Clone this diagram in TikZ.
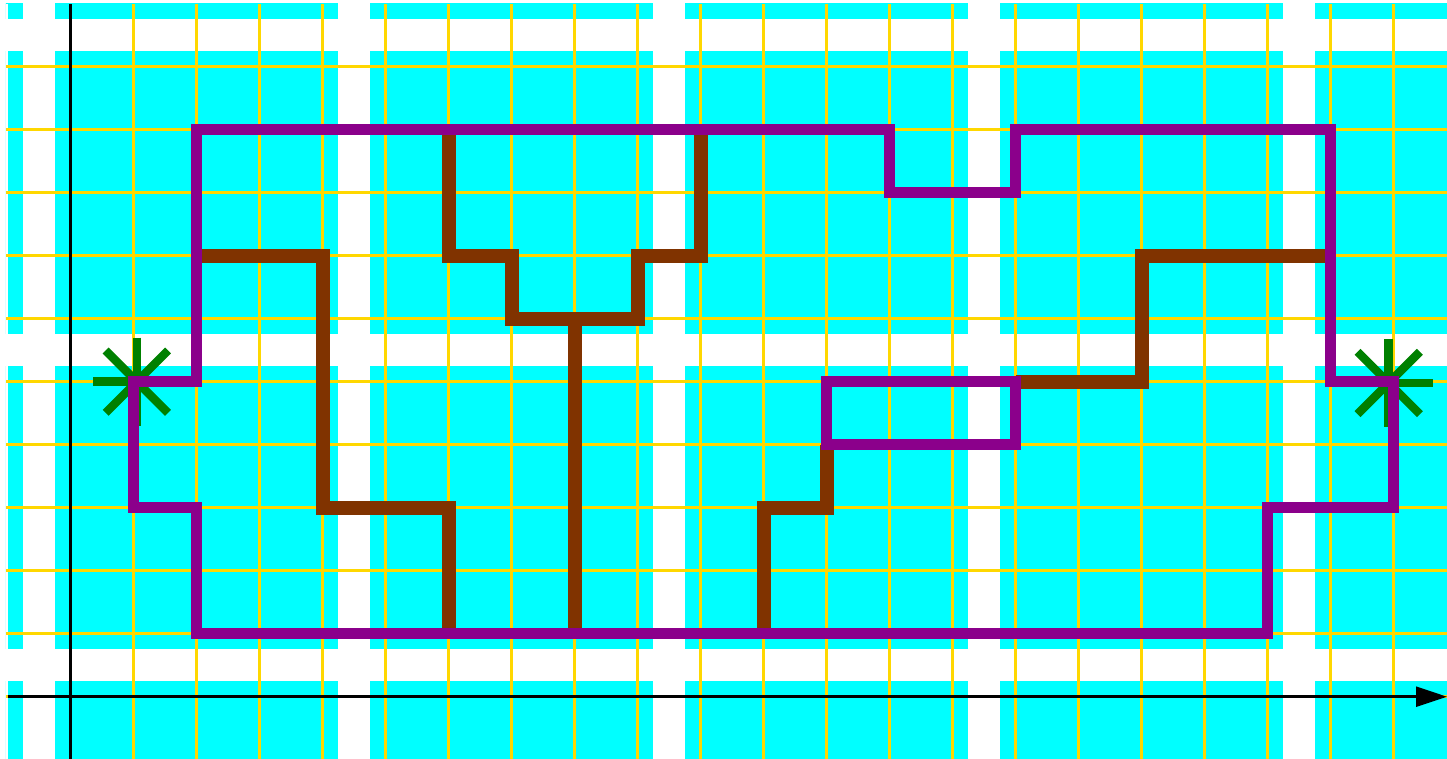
\documentclass[tikz,border=0pt]{standalone}
\usetikzlibrary{arrows.meta}
\definecolor{gridyellow}{RGB}{255,215,0}
\definecolor{blockcyan}{RGB}{0,255,255}
\definecolor{pathpurple}{RGB}{139,0,139}
\definecolor{pathbrown}{RGB}{128,51,0}
\definecolor{stargreen}{RGB}{0,128,0}
\begin{document}
\begin{tikzpicture}[x=1cm,y=1cm,
  gridline/.style={draw=gridyellow,line width=1.5pt},
  axisline/.style={draw=black,line width=1.2pt},
  wall/.style={draw=pathbrown,line width=6.3pt},
  route/.style={draw=pathpurple,line width=5pt},
  starline/.style={draw=stargreen,line width=3.8pt}]
\useasboundingbox (-1.122,-0.973) rectangle (21.846,11.059);
\begin{scope}
  \clip (-1.03,-1) rectangle (22,11);
  \foreach \i in {-1,...,4}
    \foreach \j in {-1,...,2}
      \fill[blockcyan] ({5*\i-0.25},{5*\j+0.75}) rectangle ({5*\i+4.25},{5*\j+5.25});
  \fill[white] (-1.03,-1) rectangle (-1,11);
  \foreach \x in {0,...,21} \draw[gridline] (\x,-1) -- (\x,11);
  \foreach \y in {0,...,10} \draw[gridline] (-1.03,\y) -- (22,\y);
\end{scope}
% axes
\coordinate (xs) at (-1,0);
\coordinate (xe) at (21.846,0);
\coordinate (ys) at (0,-1);
\coordinate (ye) at (0,11.0);
\draw[axisline,-{Triangle[length=14pt,width=9pt]}] (xs) -- (xe);
\draw[axisline] (ys) -- (ye);
% stars
\coordinate (starL) at (1.05,5);
\coordinate (starR) at (20.92,4.98);
\foreach \a in {0,45,90,135} {
  \draw[starline] ([shift={(\a:0.7)}]starL) -- ([shift={(\a+180:0.7)}]starL);
  \draw[starline] ([shift={(\a:0.7)}]starR) -- ([shift={(\a+180:0.7)}]starR);
}
% brown walls
\draw[wall] (2,7) -- (4,7) -- (4,3) -- (6,3) -- (6,1);
\draw[wall] (6,9) -- (6,7) -- (7,7) -- (7,6) -- (9,6) -- (9,7) -- (10,7) -- (10,9);
\draw[wall] (8,6) -- (8,1);
\draw[wall] (11,1) -- (11,3) -- (12,3) -- (12,4);
\draw[wall] (15,5) -- (17,5) -- (17,7) -- (20,7);
% purple route
\draw[route] (1,5) -- (2,5) -- (2,9) -- (13,9) -- (13,8) -- (15,8) -- (15,9) -- (20,9)
  -- (20,5) -- (21,5) -- (21,3) -- (19,3) -- (19,1) -- (2,1) -- (2,3) -- (1,3) -- cycle;
\draw[route] (12,4) rectangle (15,5);
\end{tikzpicture}
\end{document}
